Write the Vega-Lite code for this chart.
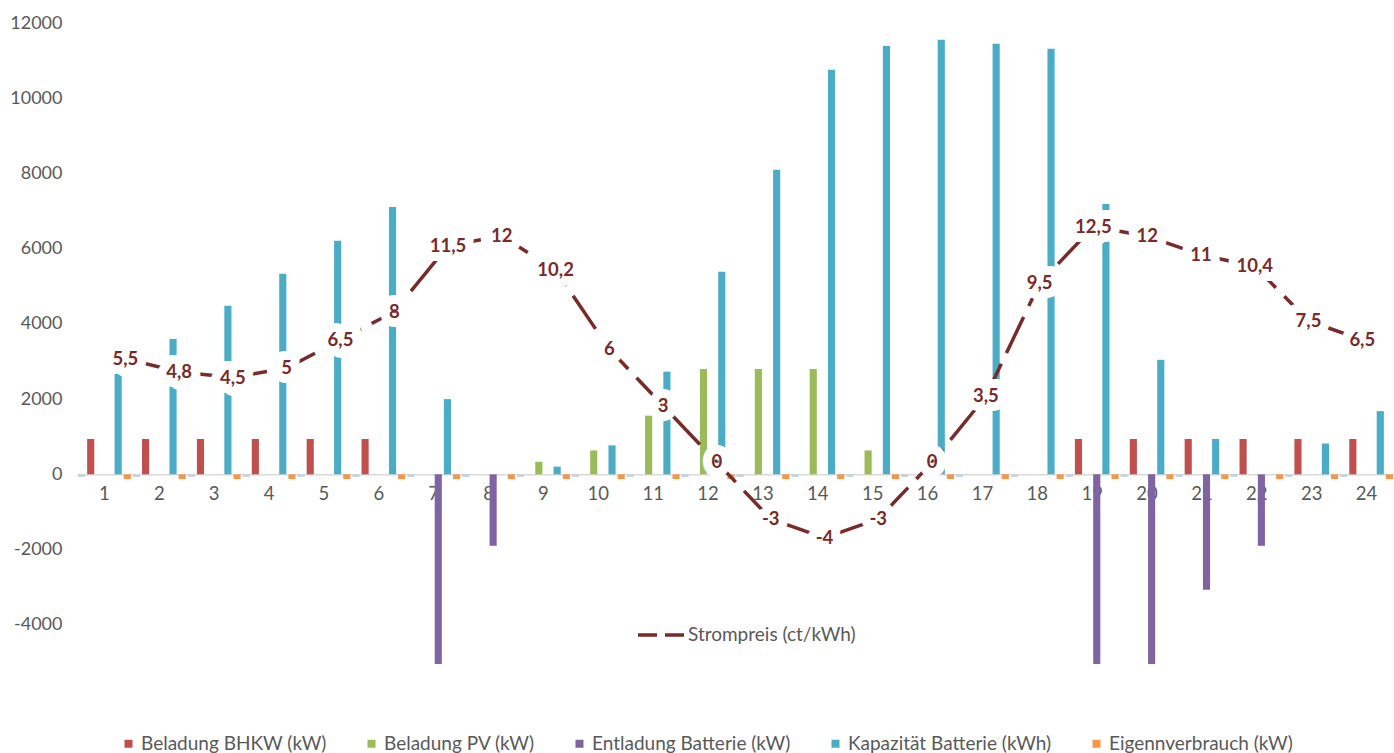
{
  "$schema": "https://vega.github.io/schema/vega-lite/v6.json",
  "width": 1317,
  "height": 677,
  "autosize": {"type": "none"},
  "padding": {"left": 77, "top": 23, "right": 0, "bottom": 53},
  "background": "white",
  "config": {
    "view": {"stroke": null},
    "font": "Lato",
    "locale": {
      "number": {"decimal": ",", "thousands": "", "grouping": [3], "currency": ["", " €"], "minus": "-"}
    }
  },
  "data": {
    "values": [
      {"Stunde": 1, "Reihe 0": -70, "Beladung BHKW (kW)": 940, "Beladung PV (kW)": 0, "Entladung Batterie (kW)": 0, "Kapazität Batterie (kWh)": 2700, "Eigennverbrauch (kW)": -125, "Preis": 5.5},
      {"Stunde": 2, "Reihe 0": -70, "Beladung BHKW (kW)": 940, "Beladung PV (kW)": 0, "Entladung Batterie (kW)": 0, "Kapazität Batterie (kWh)": 3600, "Eigennverbrauch (kW)": -125, "Preis": 4.8},
      {"Stunde": 3, "Reihe 0": -70, "Beladung BHKW (kW)": 940, "Beladung PV (kW)": 0, "Entladung Batterie (kW)": 0, "Kapazität Batterie (kWh)": 4480, "Eigennverbrauch (kW)": -125, "Preis": 4.5},
      {"Stunde": 4, "Reihe 0": -70, "Beladung BHKW (kW)": 940, "Beladung PV (kW)": 0, "Entladung Batterie (kW)": 0, "Kapazität Batterie (kWh)": 5330, "Eigennverbrauch (kW)": -125, "Preis": 5},
      {"Stunde": 5, "Reihe 0": -70, "Beladung BHKW (kW)": 940, "Beladung PV (kW)": 0, "Entladung Batterie (kW)": 0, "Kapazität Batterie (kWh)": 6210, "Eigennverbrauch (kW)": -125, "Preis": 6.5},
      {"Stunde": 6, "Reihe 0": -70, "Beladung BHKW (kW)": 940, "Beladung PV (kW)": 0, "Entladung Batterie (kW)": 0, "Kapazität Batterie (kWh)": 7110, "Eigennverbrauch (kW)": -125, "Preis": 8},
      {"Stunde": 7, "Reihe 0": -70, "Beladung BHKW (kW)": 0, "Beladung PV (kW)": 0, "Entladung Batterie (kW)": -5040, "Kapazität Batterie (kWh)": 2000, "Eigennverbrauch (kW)": -125, "Preis": 11.5},
      {"Stunde": 8, "Reihe 0": -70, "Beladung BHKW (kW)": 0, "Beladung PV (kW)": 0, "Entladung Batterie (kW)": -1900, "Kapazität Batterie (kWh)": 0, "Eigennverbrauch (kW)": -125, "Preis": 12},
      {"Stunde": 9, "Reihe 0": -70, "Beladung BHKW (kW)": 0, "Beladung PV (kW)": 335, "Entladung Batterie (kW)": 0, "Kapazität Batterie (kWh)": 205, "Eigennverbrauch (kW)": -125, "Preis": 10.2},
      {"Stunde": 10, "Reihe 0": -70, "Beladung BHKW (kW)": 0, "Beladung PV (kW)": 635, "Entladung Batterie (kW)": 0, "Kapazität Batterie (kWh)": 770, "Eigennverbrauch (kW)": -125, "Preis": 6},
      {"Stunde": 11, "Reihe 0": -70, "Beladung BHKW (kW)": 0, "Beladung PV (kW)": 1560, "Entladung Batterie (kW)": 0, "Kapazität Batterie (kWh)": 2730, "Eigennverbrauch (kW)": -125, "Preis": 3},
      {"Stunde": 12, "Reihe 0": -70, "Beladung BHKW (kW)": 0, "Beladung PV (kW)": 2800, "Entladung Batterie (kW)": 0, "Kapazität Batterie (kWh)": 5385, "Eigennverbrauch (kW)": -125, "Preis": 0},
      {"Stunde": 13, "Reihe 0": -70, "Beladung BHKW (kW)": 0, "Beladung PV (kW)": 2800, "Entladung Batterie (kW)": 0, "Kapazität Batterie (kWh)": 8100, "Eigennverbrauch (kW)": -125, "Preis": -3},
      {"Stunde": 14, "Reihe 0": -70, "Beladung BHKW (kW)": 0, "Beladung PV (kW)": 2800, "Entladung Batterie (kW)": 0, "Kapazität Batterie (kWh)": 10755, "Eigennverbrauch (kW)": -125, "Preis": -4},
      {"Stunde": 15, "Reihe 0": -70, "Beladung BHKW (kW)": 0, "Beladung PV (kW)": 635, "Entladung Batterie (kW)": 0, "Kapazität Batterie (kWh)": 11390, "Eigennverbrauch (kW)": -125, "Preis": -3},
      {"Stunde": 16, "Reihe 0": -70, "Beladung BHKW (kW)": 0, "Beladung PV (kW)": 0, "Entladung Batterie (kW)": 0, "Kapazität Batterie (kWh)": 11555, "Eigennverbrauch (kW)": -125, "Preis": 0},
      {"Stunde": 17, "Reihe 0": -70, "Beladung BHKW (kW)": 0, "Beladung PV (kW)": 0, "Entladung Batterie (kW)": 0, "Kapazität Batterie (kWh)": 11450, "Eigennverbrauch (kW)": -125, "Preis": 3.5},
      {"Stunde": 18, "Reihe 0": -70, "Beladung BHKW (kW)": 0, "Beladung PV (kW)": 0, "Entladung Batterie (kW)": 0, "Kapazität Batterie (kWh)": 11315, "Eigennverbrauch (kW)": -125, "Preis": 9.5},
      {"Stunde": 19, "Reihe 0": -70, "Beladung BHKW (kW)": 940, "Beladung PV (kW)": 0, "Entladung Batterie (kW)": -5040, "Kapazität Batterie (kWh)": 7190, "Eigennverbrauch (kW)": -125, "Preis": 12.5},
      {"Stunde": 20, "Reihe 0": -70, "Beladung BHKW (kW)": 940, "Beladung PV (kW)": 0, "Entladung Batterie (kW)": -5040, "Kapazität Batterie (kWh)": 3045, "Eigennverbrauch (kW)": -125, "Preis": 12},
      {"Stunde": 21, "Reihe 0": -70, "Beladung BHKW (kW)": 940, "Beladung PV (kW)": 0, "Entladung Batterie (kW)": -3070, "Kapazität Batterie (kWh)": 940, "Eigennverbrauch (kW)": -125, "Preis": 11},
      {"Stunde": 22, "Reihe 0": -70, "Beladung BHKW (kW)": 940, "Beladung PV (kW)": 0, "Entladung Batterie (kW)": -1900, "Kapazität Batterie (kWh)": 0, "Eigennverbrauch (kW)": -125, "Preis": 10.4},
      {"Stunde": 23, "Reihe 0": -70, "Beladung BHKW (kW)": 940, "Beladung PV (kW)": 0, "Entladung Batterie (kW)": 0, "Kapazität Batterie (kWh)": 820, "Eigennverbrauch (kW)": -125, "Preis": 7.5},
      {"Stunde": 24, "Reihe 0": -70, "Beladung BHKW (kW)": 940, "Beladung PV (kW)": 0, "Entladung Batterie (kW)": 0, "Kapazität Batterie (kWh)": 1680, "Eigennverbrauch (kW)": -125, "Preis": 6.5}
    ]
  },
  "layer": [
    {
      "transform": [
        {"fold": ["Reihe 0", "Beladung BHKW (kW)", "Beladung PV (kW)", "Entladung Batterie (kW)", "Kapazität Batterie (kWh)", "Eigennverbrauch (kW)"], "as": ["Serie", "Wert"]}
      ],
      "mark": {"type": "bar"},
      "encoding": {
        "x": {
          "field": "Stunde", "type": "ordinal",
          "scale": {"paddingInner": 0, "paddingOuter": 0},
          "axis": {"title": null, "labelAngle": 0, "labelFontSize": 18.5, "labelColor": "#595959", "ticks": false, "domainColor": "#D9D9D9", "domainWidth": 1.5, "offset": -225.7, "labelPadding": 10}
        },
        "xOffset": {
          "field": "Serie",
          "scale": {"domain": ["Reihe 0", "Beladung BHKW (kW)", "Beladung PV (kW)", "Entladung Batterie (kW)", "Kapazität Batterie (kWh)", "Eigennverbrauch (kW)"], "paddingInner": 0.22, "paddingOuter": 0.11}
        },
        "y": {
          "field": "Wert", "type": "quantitative",
          "scale": {"domain": [-6000, 12000], "nice": false},
          "axis": {"title": null, "values": [-4000, -2000, 0, 2000, 4000, 6000, 8000, 10000, 12000], "format": "d", "labelFontSize": 18, "labelColor": "#595959", "ticks": false, "domain": false, "grid": false, "labelPadding": 15}
        },
        "color": {
          "field": "Serie", "type": "nominal",
          "scale": {"domain": ["Reihe 0", "Beladung BHKW (kW)", "Beladung PV (kW)", "Entladung Batterie (kW)", "Kapazität Batterie (kWh)", "Eigennverbrauch (kW)"], "range": ["#C6D2E4", "#C0504D", "#9BBB59", "#8064A2", "#4BACC6", "#F79646"]},
          "legend": {
            "title": null, "orient": "none", "legendX": 42, "legendY": 711, "direction": "horizontal",
            "values": ["Beladung BHKW (kW)", "Beladung PV (kW)", "Entladung Batterie (kW)", "Kapazität Batterie (kWh)", "Eigennverbrauch (kW)"],
            "symbolType": "square", "symbolSize": 64, "symbolStrokeWidth": 0, "labelFontSize": 19, "labelColor": "#595959", "labelLimit": 0, "columnPadding": 35, "labelOffset": 3
          }
        }
      }
    },
    {
      "mark": {"type": "line", "strokeWidth": 3.5, "strokeDash": [40, 12]},
      "encoding": {
        "x": {"field": "Stunde", "type": "quantitative", "scale": {"domain": [0.1, 24.59], "nice": false, "zero": false}, "axis": null},
        "y": {"field": "Preis", "type": "quantitative", "scale": {"domain": [-12.6, 23.3], "nice": false, "zero": false}, "axis": null},
        "stroke": {
          "datum": "Strompreis (ct/kWh)",
          "scale": {"range": ["#772B2B"]},
          "legend": {"title": null, "orient": "none", "legendX": 559, "legendY": 586, "symbolType": "stroke", "symbolStrokeWidth": 3.5, "symbolDash": [19, 8], "symbolSize": 2304, "labelFontSize": 19, "labelColor": "#595959", "labelOffset": 0, "labelLimit": 0}
        }
      }
    },
    {
      "mark": {"type": "text", "fontWeight": "bold", "fontSize": 18.5, "fill": "white", "stroke": "white", "strokeWidth": 18, "strokeJoin": "round"},
      "encoding": {
        "x": {"field": "Stunde", "type": "quantitative", "scale": {"domain": [0.1, 24.59], "nice": false, "zero": false}, "axis": null},
        "y": {"field": "Preis", "type": "quantitative", "scale": {"domain": [-12.6, 23.3], "nice": false, "zero": false}, "axis": null},
        "text": {"field": "Preis", "type": "quantitative", "format": ".1~f"}
      }
    },
    {
      "mark": {"type": "text", "fontWeight": "bold", "fontSize": 18.5, "fill": "#772B2B"},
      "encoding": {
        "x": {"field": "Stunde", "type": "quantitative", "scale": {"domain": [0.1, 24.59], "nice": false, "zero": false}, "axis": null},
        "y": {"field": "Preis", "type": "quantitative", "scale": {"domain": [-12.6, 23.3], "nice": false, "zero": false}, "axis": null},
        "text": {"field": "Preis", "type": "quantitative", "format": ".1~f"}
      }
    }
  ],
  "resolve": {"scale": {"x": "independent", "y": "independent", "color": "independent", "stroke": "independent"}}
}
